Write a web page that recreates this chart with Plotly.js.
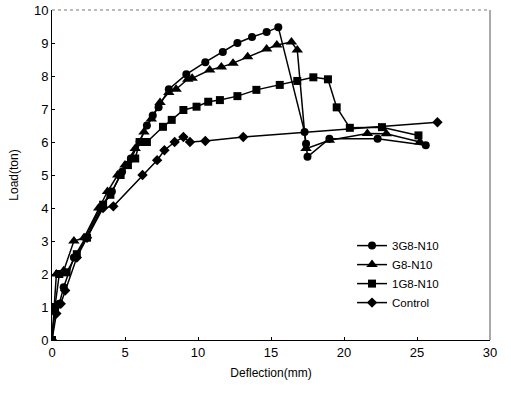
<!DOCTYPE html>
<html>
<head>
<meta charset="utf-8">
<script src="https://cdn.plot.ly/plotly-3.0.1.min.js"></script>
<style>html,body{margin:0;padding:0;background:#fff;}#chart{width:511px;height:394px;}</style>
</head>
<body>
<div id="chart"></div>
<script>
var seriesNames = ["3G8-N10", "G8-N10", "1G8-N10", "Control"];

var x3G8 = [0,0.2,0.5,0.8,1.5,2.3,3.3,4.1,4.8,5.4,6.0,6.5,6.9,7.3,8.0,9.2,10.5,11.7,12.7,13.7,14.7,15.5,17.3,17.4,17.5,19.0,22.3,25.6];
var y3G8 = [0,0.9,1.1,1.6,2.5,3.1,4.0,4.5,5.1,5.5,6.0,6.5,6.8,7.05,7.6,8.05,8.42,8.73,9.0,9.18,9.33,9.48,6.3,5.95,5.55,6.1,6.1,5.9];

var xG8 = [0,0.3,0.8,1.5,2.2,3.2,3.8,4.5,5.0,5.7,6.3,6.8,7.4,8.0,8.5,9.3,9.6,10.8,11.6,12.4,13.4,14.7,15.4,16.4,16.8,17.4,19.0,21.6,22.9,25.2];
var yG8 = [0,2.0,2.1,3.0,3.1,4.0,4.5,5.0,5.3,5.8,6.3,6.7,7.2,7.5,7.6,7.9,7.93,8.18,8.27,8.39,8.58,8.82,8.94,9.03,8.79,5.8,6.05,6.26,6.25,6.0];

var x1G8 = [0,0.2,0.5,1.0,1.7,2.4,3.5,4.0,4.7,5.2,5.7,6.0,6.5,7.6,8.2,9.0,9.9,10.7,11.5,12.7,14.0,15.6,16.8,17.9,18.9,19.5,20.4,22.6,25.1];
var y1G8 = [0,1.0,2.0,2.05,2.6,3.1,4.1,4.4,5.0,5.3,5.5,6.0,6.0,6.46,6.67,6.97,7.07,7.22,7.27,7.39,7.58,7.73,7.85,7.96,7.9,7.05,6.43,6.45,6.2];

var xCtrl = [0,0.3,0.6,0.9,1.7,2.4,3.5,4.2,6.2,7.2,7.7,8.4,9.0,9.45,10.5,13.1,26.4];
var yCtrl = [0,0.8,1.1,1.5,2.5,3.1,4.0,4.05,5.0,5.45,5.75,6.0,6.15,6.0,6.03,6.15,6.6];

var xTicks = [0,5,10,15,20,25,30];
var yTicks = [0,1,2,3,4,5,6,7,8,9,10];

function tr(name, x, y, sym, sz) {
  return {
    x: x, y: y, name: name, type: 'scatter', mode: 'lines+markers',
    line: {color: '#000', width: 1.5},
    marker: {symbol: sym, size: sz, color: '#000'}
  };
}

var data = [
  tr(seriesNames[0], x3G8, y3G8, 'circle', 8),
  tr(seriesNames[1], xG8, yG8, 'triangle-up', 10),
  tr(seriesNames[2], x1G8, y1G8, 'square', 8),
  tr(seriesNames[3], xCtrl, yCtrl, 'diamond', 8)
];

var layout = {
  width: 511, height: 394,
  margin: {l: 52, r: 21, t: 10, b: 54},
  paper_bgcolor: '#fff', plot_bgcolor: '#fff',
  font: {family: 'Liberation Sans, Arial, sans-serif', size: 12, color: '#000'},
  showlegend: true,
  legend: {x: 0.685, y: 0.33, xanchor: 'left', yanchor: 'top', bgcolor: 'rgba(0,0,0,0)',
           font: {size: 11.5, color: '#000'}, tracegroupgap: 0, itemwidth: 30},
  xaxis: {
    range: [0, 30], tickvals: xTicks, ticktext: xTicks.map(String),
    showgrid: false, zeroline: false, showline: true, linecolor: '#000', linewidth: 1,
    ticks: 'inside', ticklen: 3, tickcolor: '#000', tickfont: {size: 13},
    title: {text: 'Deflection(mm)', font: {size: 12}, standoff: 10}
  },
  yaxis: {
    range: [0, 10], tickvals: yTicks, ticktext: yTicks.map(String),
    showgrid: false, zeroline: false, showline: true, linecolor: '#000', linewidth: 1,
    ticks: 'inside', ticklen: 3, tickcolor: '#000', tickfont: {size: 13},
    title: {text: 'Load(ton)', font: {size: 12}, standoff: 12}
  },
  shapes: [
    {type: 'line', xref: 'paper', yref: 'paper', x0: 0, x1: 1, y0: 1, y1: 1, line: {color: '#777', width: 1, dash: 'dot'}},
    {type: 'line', xref: 'paper', yref: 'paper', x0: 1, x1: 1, y0: 0, y1: 1, line: {color: '#555', width: 1}}
  ]
};

Plotly.newPlot('chart', data, layout, {displayModeBar: false, staticPlot: true});
</script>
</body>
</html>
